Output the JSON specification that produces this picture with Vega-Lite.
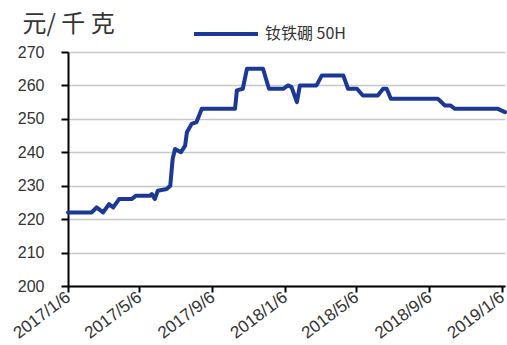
{
  "$schema": "https://vega.github.io/schema/vega-lite/v6.json",
  "width": 437,
  "height": 234,
  "autosize": {"type": "none"},
  "padding": {"left": 68, "top": 52, "right": 2, "bottom": 59},
  "background": "white",
  "config": {
    "view": {"stroke": null},
    "font": "Liberation Sans"
  },
  "data": {
    "values": [
      {"date": "2017-01-06", "price": 222, "series": "钕铁硼 50H"},
      {"date": "2017-02-15", "price": 222, "series": "钕铁硼 50H"},
      {"date": "2017-02-23", "price": 223.5, "series": "钕铁硼 50H"},
      {"date": "2017-03-06", "price": 222, "series": "钕铁硼 50H"},
      {"date": "2017-03-16", "price": 224.5, "series": "钕铁硼 50H"},
      {"date": "2017-03-23", "price": 223.5, "series": "钕铁硼 50H"},
      {"date": "2017-04-02", "price": 226, "series": "钕铁硼 50H"},
      {"date": "2017-04-23", "price": 226, "series": "钕铁硼 50H"},
      {"date": "2017-04-30", "price": 227, "series": "钕铁硼 50H"},
      {"date": "2017-05-24", "price": 227, "series": "钕铁硼 50H"},
      {"date": "2017-05-27", "price": 227.5, "series": "钕铁硼 50H"},
      {"date": "2017-06-01", "price": 226, "series": "钕铁硼 50H"},
      {"date": "2017-06-06", "price": 228.5, "series": "钕铁硼 50H"},
      {"date": "2017-06-21", "price": 229, "series": "钕铁硼 50H"},
      {"date": "2017-06-27", "price": 230, "series": "钕铁硼 50H"},
      {"date": "2017-07-01", "price": 238, "series": "钕铁硼 50H"},
      {"date": "2017-07-05", "price": 241, "series": "钕铁硼 50H"},
      {"date": "2017-07-15", "price": 240, "series": "钕铁硼 50H"},
      {"date": "2017-07-22", "price": 242, "series": "钕铁硼 50H"},
      {"date": "2017-07-25", "price": 246, "series": "钕铁硼 50H"},
      {"date": "2017-08-02", "price": 248.5, "series": "钕铁硼 50H"},
      {"date": "2017-08-10", "price": 249, "series": "钕铁硼 50H"},
      {"date": "2017-08-19", "price": 253, "series": "钕铁硼 50H"},
      {"date": "2017-10-14", "price": 253, "series": "钕铁硼 50H"},
      {"date": "2017-10-17", "price": 258.5, "series": "钕铁硼 50H"},
      {"date": "2017-10-27", "price": 259, "series": "钕铁硼 50H"},
      {"date": "2017-11-03", "price": 265, "series": "钕铁硼 50H"},
      {"date": "2017-11-30", "price": 265, "series": "钕铁硼 50H"},
      {"date": "2017-12-10", "price": 259, "series": "钕铁硼 50H"},
      {"date": "2018-01-03", "price": 259, "series": "钕铁硼 50H"},
      {"date": "2018-01-11", "price": 260, "series": "钕铁硼 50H"},
      {"date": "2018-01-17", "price": 259.5, "series": "钕铁硼 50H"},
      {"date": "2018-01-26", "price": 255, "series": "钕铁硼 50H"},
      {"date": "2018-01-31", "price": 260, "series": "钕铁硼 50H"},
      {"date": "2018-02-28", "price": 260, "series": "钕铁硼 50H"},
      {"date": "2018-03-09", "price": 263, "series": "钕铁硼 50H"},
      {"date": "2018-04-14", "price": 263, "series": "钕铁硼 50H"},
      {"date": "2018-04-22", "price": 259, "series": "钕铁硼 50H"},
      {"date": "2018-05-07", "price": 259, "series": "钕铁硼 50H"},
      {"date": "2018-05-17", "price": 257, "series": "钕铁硼 50H"},
      {"date": "2018-06-11", "price": 257, "series": "钕铁硼 50H"},
      {"date": "2018-06-20", "price": 259, "series": "钕铁硼 50H"},
      {"date": "2018-06-26", "price": 259, "series": "钕铁硼 50H"},
      {"date": "2018-07-03", "price": 256, "series": "钕铁硼 50H"},
      {"date": "2018-09-20", "price": 256, "series": "钕铁硼 50H"},
      {"date": "2018-10-02", "price": 254, "series": "钕铁硼 50H"},
      {"date": "2018-10-11", "price": 254, "series": "钕铁硼 50H"},
      {"date": "2018-10-19", "price": 253, "series": "钕铁硼 50H"},
      {"date": "2018-12-30", "price": 253, "series": "钕铁硼 50H"},
      {"date": "2019-01-11", "price": 252, "series": "钕铁硼 50H"}
    ]
  },
  "mark": {
    "type": "line",
    "strokeWidth": 4,
    "strokeJoin": "round",
    "strokeCap": "round",
    "clip": false
  },
  "encoding": {
    "x": {
      "field": "date",
      "type": "temporal",
      "scale": {
        "domain": [
          {"year": 2017, "month": 1, "date": 6},
          {"year": 2019, "month": 1, "date": 11}
        ]
      },
      "axis": {
        "title": null,
        "grid": false,
        "values": [
          {"year": 2017, "month": 1, "date": 6},
          {"year": 2017, "month": 5, "date": 6},
          {"year": 2017, "month": 9, "date": 6},
          {"year": 2018, "month": 1, "date": 6},
          {"year": 2018, "month": 5, "date": 6},
          {"year": 2018, "month": 9, "date": 6},
          {"year": 2019, "month": 1, "date": 6}
        ],
        "format": "%Y/%-m/%-d",
        "labelAngle": -37,
        "labelAlign": "right",
        "labelBaseline": "middle",
        "labelPadding": 3,
        "labelFontSize": 17,
        "labelColor": "#333333",
        "labelFont": "Liberation Sans",
        "labelOverlap": false,
        "labelBound": false,
        "labelFlush": false,
        "domainColor": "#000000",
        "domainWidth": 2,
        "tickColor": "#000000",
        "tickWidth": 2,
        "tickSize": 6
      }
    },
    "y": {
      "field": "price",
      "type": "quantitative",
      "scale": {"domain": [200, 270], "nice": false, "zero": false},
      "axis": {
        "title": "元/ 千 克",
        "titleAngle": 0,
        "titleAlign": "left",
        "titleBaseline": "alphabetic",
        "titleX": -46,
        "titleY": -21,
        "titleFont": "Noto Sans CJK SC",
        "titleFontSize": 24,
        "titleFontWeight": "normal",
        "titleColor": "#333333",
        "values": [200, 210, 220, 230, 240, 250, 260, 270],
        "labelFontSize": 16,
        "labelColor": "#333333",
        "labelFont": "Liberation Sans",
        "labelPadding": 17,
        "grid": true,
        "gridColor": "#c8c8c8",
        "gridWidth": 1.5,
        "domainColor": "#000000",
        "domainWidth": 2,
        "tickColor": "#000000",
        "tickWidth": 2,
        "tickSize": 7
      }
    },
    "color": {
      "field": "series",
      "type": "nominal",
      "scale": {"range": ["#1b3897"]},
      "legend": {
        "title": null,
        "orient": "none",
        "legendX": 124,
        "legendY": -52,
        "padding": 0,
        "symbolType": "stroke",
        "symbolSize": 4096,
        "symbolStrokeWidth": 4,
        "labelFont": "Noto Sans CJK SC",
        "labelFontSize": 16,
        "labelColor": "#333333",
        "labelOffset": 5
      }
    }
  }
}
